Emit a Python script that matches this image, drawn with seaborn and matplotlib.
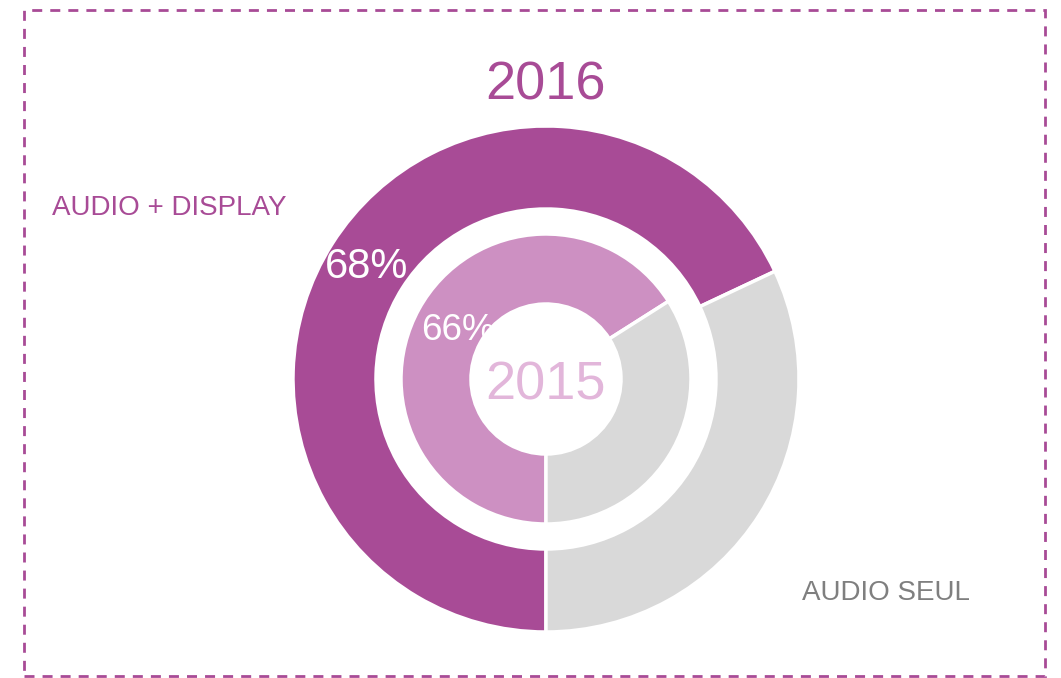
import matplotlib
matplotlib.use("Agg")
import matplotlib.pyplot as plt
import seaborn as sns
from matplotlib.patches import Rectangle, Circle

# Data
segments = ["AUDIO + DISPLAY", "AUDIO SEUL"]
share_2016 = [68, 32]
share_2015 = [66, 34]

PURPLE = "#A84B96"
LIGHT_PURPLE = "#CD90C2"
GREY = "#D9D9D9"

sns.set_theme(style="white")
plt.rcParams['font.family'] = ['Liberation Sans', 'DejaVu Sans']

W, H = 1061, 678
fig = plt.figure(figsize=(W / 100, H / 100), dpi=100)
ax = fig.add_axes([0, 0, 1, 1])

cx, cy = 546, H - 379

# outer ring: 2016
ax.pie(share_2016, colors=[PURPLE, GREY], startangle=270, counterclock=False,
       radius=253, center=(cx, cy), frame=True,
       wedgeprops=dict(width=83, edgecolor="white", linewidth=2.5))
# inner ring: 2015
ax.pie(share_2015, colors=[LIGHT_PURPLE, GREY], startangle=270, counterclock=False,
       radius=145, center=(cx, cy), frame=True,
       wedgeprops=dict(width=70, edgecolor="white", linewidth=2.5))
ax.set_xlim(0, W)
ax.set_ylim(0, H)
ax.set_axis_off()

# percent labels
ax.text(367, H - 267, f"{share_2016[0]}%", color="white", fontsize=30,
        ha="center", va="center", zorder=5)
ax.text(421, H - 331, f"{share_2015[0]}%", color="white", fontsize=26.5,
        ha="left", va="center", zorder=5)
# white hole hides the end of the inner label
ax.add_patch(Circle((cx, cy), 75, facecolor="white", edgecolor="none", zorder=6))

ax.text(cx, H - 385, "2015", color="#E2B6DA", fontsize=39,
        ha="center", va="center", zorder=7)
ax.text(cx, H - 85, "2016", color=PURPLE, fontsize=39,
        ha="center", va="center")

ax.text(52, H - 208, segments[0], color=PURPLE, fontsize=20,
        ha="left", va="center")
ax.text(802, H - 593, segments[1], color="#7F7F7F", fontsize=20,
        ha="left", va="center")

# dashed frame
ax.add_patch(Rectangle((24, H - 676), 1021, 666, fill=False, edgecolor=PURPLE,
                       linewidth=2, linestyle=(0, (3.6, 2.9)), zorder=8))

fig.savefig("out.png", dpi=100)
